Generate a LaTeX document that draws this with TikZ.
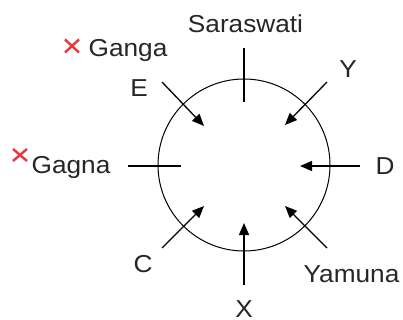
\documentclass[tikz,border=0pt]{standalone}
\usepackage{fontspec}
\setmainfont{Liberation Sans}[FakeStretch=1.07]
\usetikzlibrary{arrows.meta,calc}
\definecolor{txt}{HTML}{262626}
\definecolor{crossred}{HTML}{E8383D}
\begin{document}
\begin{tikzpicture}[x=1pt,y=-1pt,
  lbl/.style={anchor=base,inner sep=0pt,text=txt,font=\fontsize{24.5}{29}\selectfont},
  ray/.style={line width=1.3pt,draw=black},
  arr/.style={ray,-{Triangle[length=12pt,width=10pt]}},
  crossmark/.style={draw=crossred,line width=2.4pt}]
\useasboundingbox (0,0) rectangle (403,320);
\node[draw,line width=1pt,circle,minimum size=172pt,inner sep=0pt] (ring) at (244,165) {};
% labels
\node[lbl] (sar) at (245.5,33) {Saraswati};
\node[lbl] (gan) at (128,57) {Ganga};
\node[lbl] (gag) at (71,174) {Gagna};
\node[lbl] (yam) at (351.5,282) {Yamuna};
\node[lbl] (d) at (385,175) {D};
\node[lbl] (x) at (244,317) {X};
\node[lbl] (e) at (139,97) {E};
\node[lbl] (y) at (348,78) {Y};
\node[lbl] (c) at (143,272) {C};
% red crosses
\coordinate (g1) at (72,46);
\coordinate (g2) at (20,155);
\draw[crossmark] ($(g1)+(-7,-6.5)$) -- ($(g1)+(7,6.5)$) ($(g1)+(-7,6.5)$) -- ($(g1)+(7,-6.5)$);
\draw[crossmark] ($(g2)+(-7,-6)$) -- ($(g2)+(7,6)$) ($(g2)+(-7,6)$) -- ($(g2)+(7,-6)$);
% plain lines
\coordinate (s1) at (244,48); \coordinate (s2) at (244,102);
\draw[ray] (s1) -- (s2);
\coordinate (w1) at (128,166); \coordinate (w2) at (181,166);
\draw[ray] (w1) -- (w2);
% arrows
\coordinate (da) at (360,166); \coordinate (db) at (300,166);
\draw[arr] (da) -- (db);
\coordinate (xa) at (244,285); \coordinate (xb) at (244,223);
\draw[arr] (xa) -- (xb);
\coordinate (ea) at (162,82); \coordinate (eb) at (204,126);
\draw[arr] (ea) -- (eb);
\coordinate (ya) at (327,82); \coordinate (yb) at (285,125);
\draw[arr] (ya) -- (yb);
\coordinate (ca) at (162,248); \coordinate (cb) at (204,206);
\draw[arr] (ca) -- (cb);
\coordinate (ma) at (327,248); \coordinate (mb) at (285,206);
\draw[arr] (ma) -- (mb);
\end{tikzpicture}
\end{document}
